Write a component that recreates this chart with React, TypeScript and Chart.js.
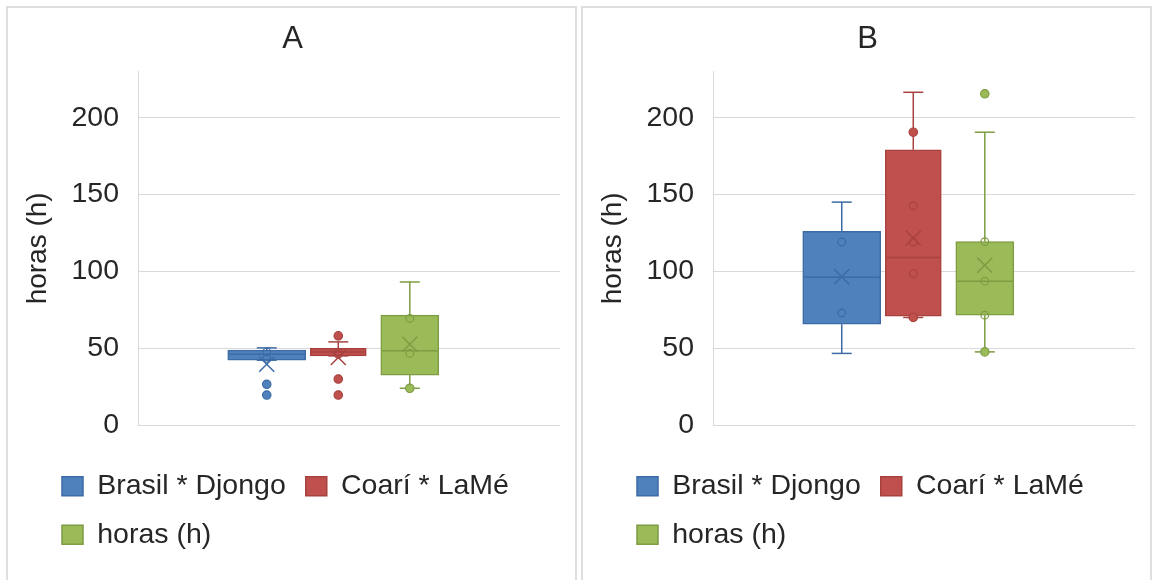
import React, { useEffect, useRef } from 'react';
import { Chart, registerables } from 'chart.js';

Chart.register(...registerables);

// ---------- data ----------
const SERIES = ['Brasil * Djongo', 'Coarí * LaMé', 'horas (h)'];
const SERIES_SLOT = [1, 2, 3];
const Y_TICKS_STEP = 50;
const Y_MAX = 230;

// Panel A
const A_MIN = [42.2, 45.0, 23.9];
const A_Q1 = [42.2, 45.0, 32.5];
const A_MEDIAN = [46.0, 47.5, 48.3];
const A_Q3 = [48.7, 49.9, 71.5];
const A_MAX = [50.2, 54.1, 93.1];
const A_MEAN = [39.5, 44.0, 52.6];
const A_HOLLOW = [[47.6, 43.4], [47.5, 46.0], [69.4, 46.6]];
const A_SOLID = [[26.5, 19.5], [58.0, 29.9, 19.5], [23.9]];

// Panel B
const B_MIN = [46.6, 70.0, 47.6];
const B_Q1 = [65.6, 70.8, 71.5];
const B_MEDIAN = [96.2, 109.0, 93.6];
const B_Q3 = [126.1, 179.2, 119.4];
const B_MAX = [145.1, 216.6, 190.6];
const B_MEAN = [96.5, 121.7, 104.0];
const B_HOLLOW = [[119.1, 73.0], [142.8, 119.1, 98.6], [119.4, 93.6, 71.5]];
const B_SOLID = [[], [190.6, 70.0], [215.6, 47.6]];

// ---------- styles ----------
const FILLS = ['#4f81bd', '#c0504d', '#9bbb59'];
const EDGES = ['#3c6ba5', '#a8423f', '#7e9c43'];
const BOX_WIDTHS = [78, 56, 58];
const FONT = "'Liberation Sans', Arial, Helvetica, sans-serif";
const TEXT = '#262626';
const GRID = '#d9d9d9';

type PanelData = {
  title: string;
  min: number[];
  q1: number[];
  median: number[];
  q3: number[];
  max: number[];
  mean: number[];
  hollow: number[][];
  solid: number[][];
};

const PANELS: PanelData[] = [
  { title: 'A', min: A_MIN, q1: A_Q1, median: A_MEDIAN, q3: A_Q3, max: A_MAX, mean: A_MEAN, hollow: A_HOLLOW, solid: A_SOLID },
  { title: 'B', min: B_MIN, q1: B_Q1, median: B_MEDIAN, q3: B_Q3, max: B_MAX, mean: B_MEAN, hollow: B_HOLLOW, solid: B_SOLID },
];

// draws whiskers, caps, median, mean marker and points on top of each box
const boxExtras = {
  id: 'boxExtras',
  afterDatasetsDraw(chart: any) {
    const ctx = chart.ctx;
    const ys = chart.scales.y;
    const py = (v: number) => ys.getPixelForValue(v);
    chart.data.datasets.forEach((ds: any, i: number) => {
      const meta = chart.getDatasetMeta(i);
      const bar = meta.data[0];
      if (!bar) return;
      const { x, width } = bar.getProps(['x', 'width'], true);
      const s = ds.stats;
      const [q1, q3] = ds.data[0].y;
      const half = width / 2;
      const cap = 10;
      ctx.save();
      ctx.strokeStyle = ds.borderColor;
      ctx.lineWidth = 1.5;
      const seg = (x1: number, y1: number, x2: number, y2: number) => {
        ctx.beginPath();
        ctx.moveTo(x1, y1);
        ctx.lineTo(x2, y2);
        ctx.stroke();
      };
      // whiskers
      seg(x, py(q3), x, py(s.max));
      seg(x, py(q1), x, py(s.min));
      seg(x - cap, py(s.max), x + cap, py(s.max));
      seg(x - cap, py(s.min), x + cap, py(s.min));
      // median
      seg(x - half + 1, py(s.median), x + half - 1, py(s.median));
      // mean (X)
      const m = py(s.mean);
      const k = 7.5;
      seg(x - k, m - k, x + k, m + k);
      seg(x - k, m + k, x + k, m - k);
      // hollow points
      ctx.lineWidth = 1.2;
      s.hollow.forEach((v: number) => {
        ctx.beginPath();
        ctx.arc(x, py(v), 3.8, 0, Math.PI * 2);
        ctx.stroke();
      });
      // solid points
      ctx.fillStyle = ds.backgroundColor;
      s.solid.forEach((v: number) => {
        ctx.beginPath();
        ctx.arc(x, py(v), 4.2, 0, Math.PI * 2);
        ctx.fill();
        ctx.stroke();
      });
      ctx.restore();
    });
  },
};

// nudges the title and the bottom legend horizontally to match the reference layout
const blockShift = {
  id: 'blockShift',
  afterLayout(chart: any, _args: any, opts: any) {
    const l = chart.legend;
    if (l && opts && opts.legendDx) {
      l.left += opts.legendDx;
      l.right += opts.legendDx;
    }
    const t = chart.titleBlock;
    if (t && opts && opts.titleDx) {
      t.left += opts.titleDx;
      t.right += opts.titleDx;
    }
  },
};

function BoxPanel({ panel, left }: { panel: PanelData; left: number }) {
  const ref = useRef<HTMLCanvasElement>(null);
  useEffect(() => {
    if (!ref.current) return;
    const chart = new Chart(ref.current, {
      type: 'bar',
      data: {
        datasets: SERIES.map((name, i) => ({
          label: name,
          data: [{ x: SERIES_SLOT[i], y: [panel.q1[i], panel.q3[i]] }],
          backgroundColor: FILLS[i],
          borderColor: EDGES[i],
          borderWidth: 1.5,
          borderSkipped: false,
          barThickness: BOX_WIDTHS[i],
          grouped: false,
          stats: {
            min: panel.min[i],
            max: panel.max[i],
            median: panel.median[i],
            mean: panel.mean[i],
            hollow: panel.hollow[i],
            solid: panel.solid[i],
          },
        })) as any,
      },
      options: {
        animation: false,
        responsive: false,
        events: [],
        layout: { padding: { right: 15 } },
        scales: {
          x: {
            type: 'linear',
            offset: false,
            min: -0.8,
            max: 5.1,
            ticks: { display: false },
            grid: { display: false },
            border: { display: false },
            afterFit: (s: any) => {
              s.height = 27;
            },
          },
          y: {
            min: 0,
            max: Y_MAX,
            ticks: {
              stepSize: Y_TICKS_STEP,
              includeBounds: false,
              padding: 19,
              color: TEXT,
              font: { family: FONT, size: 28.5 },
            },
            grid: { color: GRID, lineWidth: 1, drawTicks: false },
            border: { display: true, color: GRID, width: 1 },
            title: {
              display: true,
              text: 'horas (h)',
              color: TEXT,
              font: { family: FONT, size: 28 },
              padding: { top: 12.4, bottom: 0 },
            },
            afterFit: (s: any) => {
              s.width = 129;
            },
          },
        } as any,
        plugins: {
          title: {
            display: true,
            text: panel.title,
            color: TEXT,
            font: { family: FONT, size: 31, weight: 'normal' },
            padding: { top: 12, bottom: 13.5 },
          },
          legend: {
            position: 'bottom',
            align: 'start',
            labels: {
              boxWidth: 21,
              boxHeight: 19,
              padding: 20,
              color: TEXT,
              font: { family: FONT, size: 28.5 },
            },
          },
          tooltip: { enabled: false },
          blockShift: { legendDx: 33, titleDx: 8 },
        } as any,
      },
      plugins: [boxExtras, blockShift],
    } as any);
    return () => chart.destroy();
  }, [panel]);

  return (
    <div
      style={{
        position: 'absolute',
        left,
        top: 6,
        width: 571,
        height: 574,
        boxSizing: 'border-box',
        border: '2px solid #dedede',
        borderBottom: 'none',
        background: '#ffffff',
      }}
    >
      <canvas
        ref={ref}
        width={566}
        height={550}
        style={{ position: 'absolute', left: 1, top: 1, width: 566, height: 550 }}
      />
    </div>
  );
}

export default function App() {
  return (
    <div>
      <BoxPanel panel={PANELS[0]} left={6} />
      <BoxPanel panel={PANELS[1]} left={581} />
    </div>
  );
}
